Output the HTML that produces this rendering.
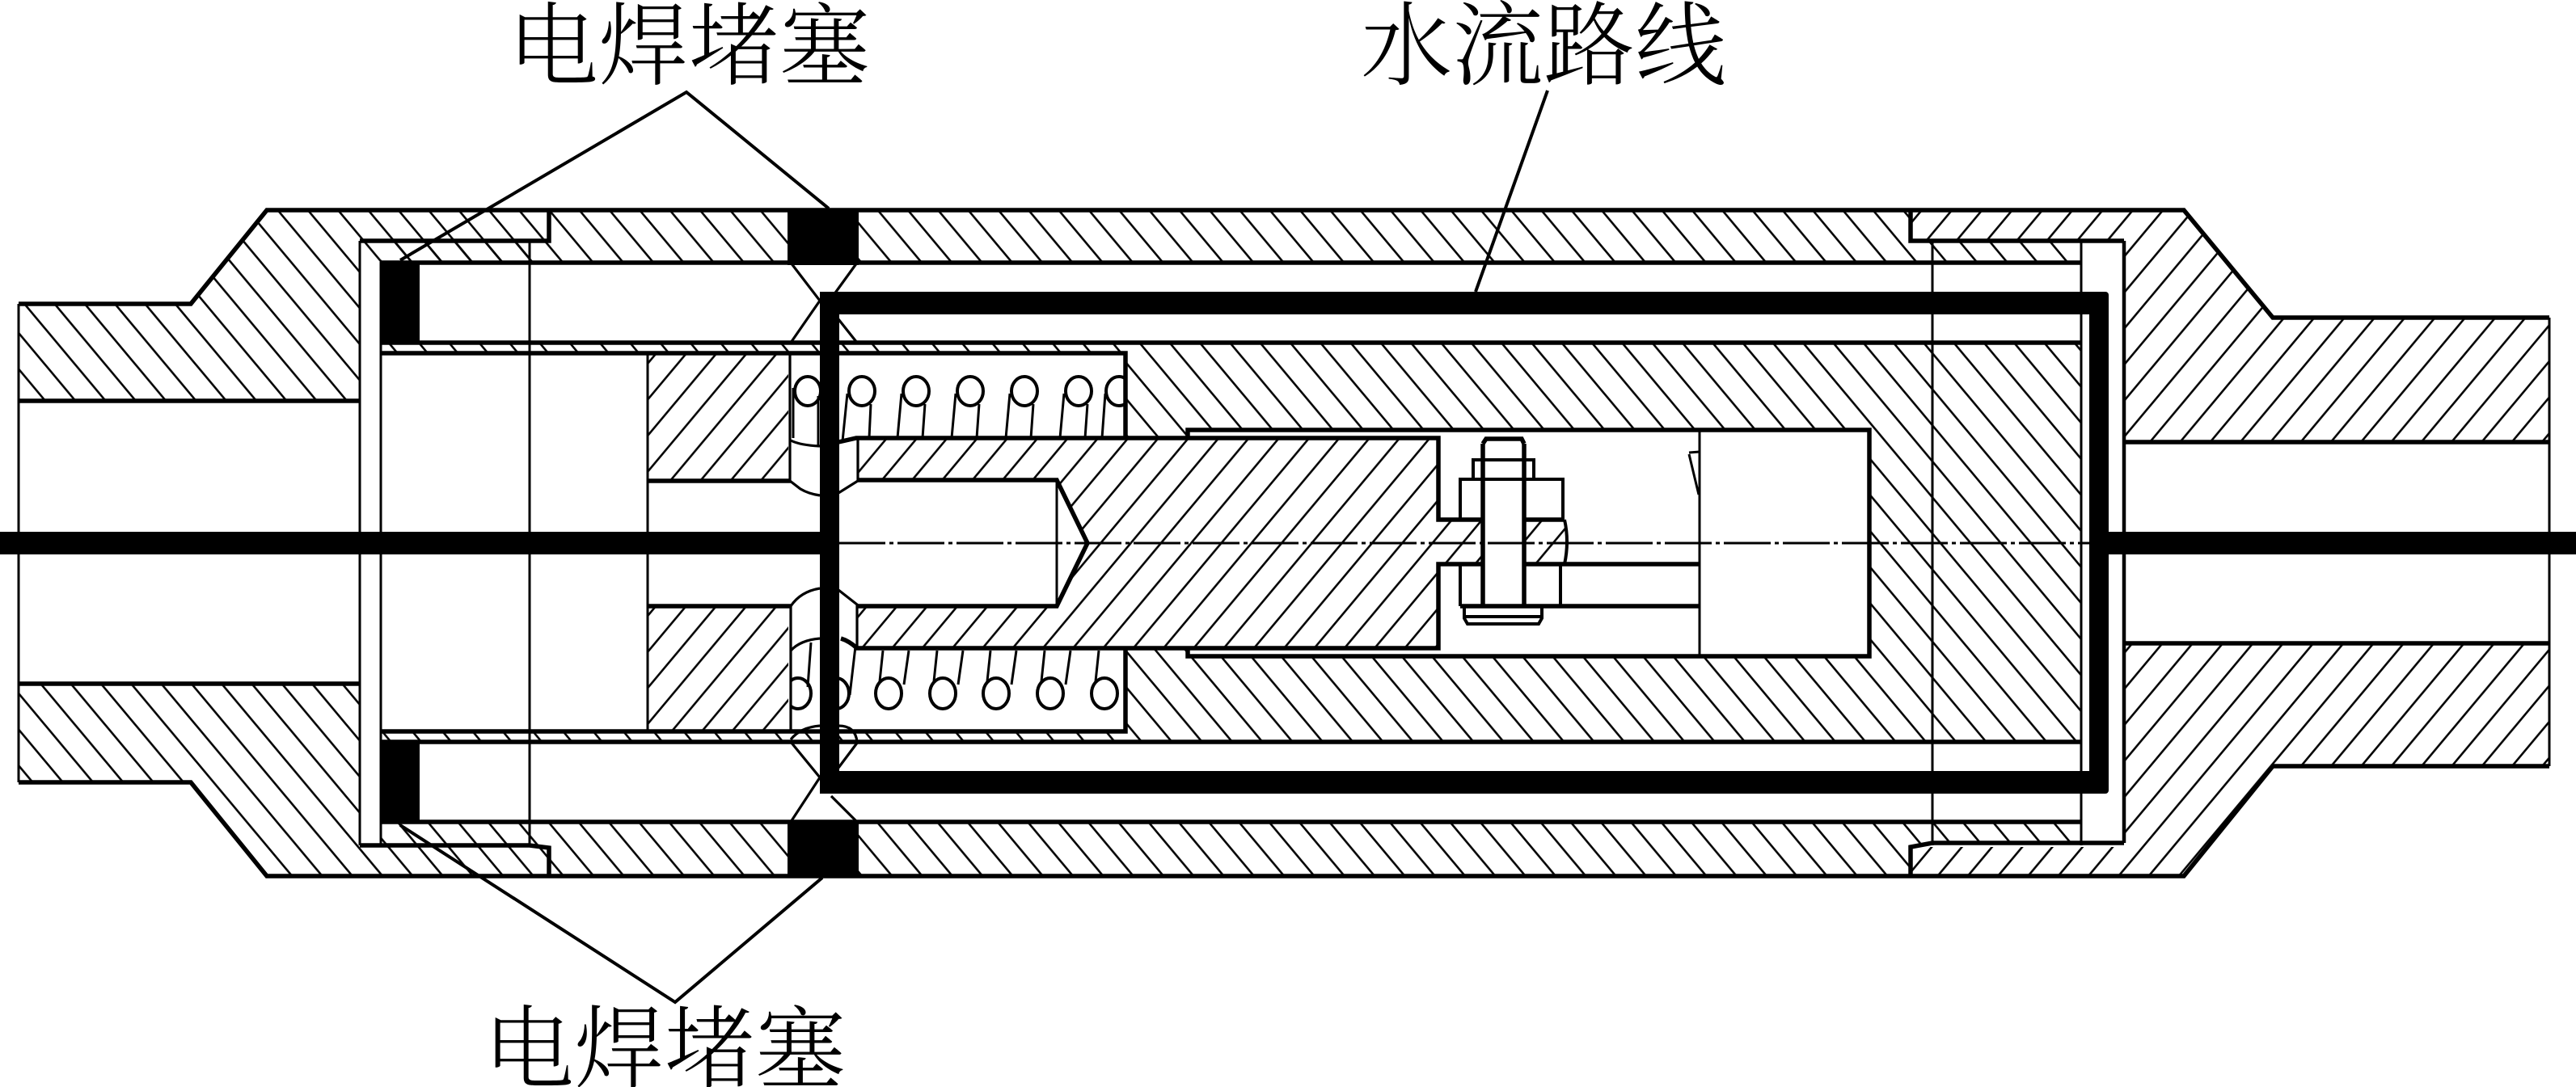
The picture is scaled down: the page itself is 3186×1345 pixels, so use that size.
<!DOCTYPE html>
<html><head><meta charset="utf-8"><style>
html,body{margin:0;padding:0;background:#fff}
svg{display:block}
text{font-family:"Liberation Serif","Noto Serif CJK SC",serif;font-size:112px;fill:#000;font-weight:300}
</style></head><body>
<svg width="3186" height="1345" viewBox="0 0 3186 1345" xmlns="http://www.w3.org/2000/svg">
<defs>
<pattern id="b" patternUnits="userSpaceOnUse" width="37.3" height="44.6" patternTransform="translate(56,496)"><path d="M-37.3 -44.6L74.6 89.2M0 -44.6L74.6 44.6M-37.3 0L37.3 89.2" stroke="#000" stroke-width="2.6" fill="none"/></pattern>
<pattern id="m" patternUnits="userSpaceOnUse" width="37.3" height="44.6" patternTransform="translate(1097,542)"><path d="M74.6 -44.6L-37.3 89.2M37.3 -44.6L-37.3 44.6M74.6 0L0 89.2" stroke="#000" stroke-width="2.6" fill="none"/></pattern>
<pattern id="r" patternUnits="userSpaceOnUse" width="37.3" height="44.6" patternTransform="translate(2659,547)"><path d="M74.6 -44.6L-37.3 89.2M37.3 -44.6L-37.3 44.6M74.6 0L0 89.2" stroke="#000" stroke-width="2.6" fill="none"/></pattern>
<pattern id="c" patternUnits="userSpaceOnUse" width="37.3" height="44.6" patternTransform="translate(1425,532)"><path d="M-37.3 -44.6L74.6 89.2M0 -44.6L74.6 44.6M-37.3 0L37.3 89.2" stroke="#000" stroke-width="2.6" fill="none"/></pattern>
<clipPath id="c1"><rect x="978" y="430" width="414" height="120"/></clipPath>
<clipPath id="c2"><rect x="978" y="800" width="36" height="110"/><rect x="1037" y="800" width="355" height="110"/></clipPath>
</defs>
<rect width="3186" height="1345" fill="#fff"/>

<!-- hatch: left flange + left shell -->
<path fill="url(#b)" d="M23 376H236L330 259H975V325H471V323H445V496H23Z"/>
<path fill="url(#b)" d="M23 846H445V1046H679V1084H330L236 968H23Z"/>
<path fill="url(#b)" d="M471 1017H975V1084H679V1049H471Z"/>
<path fill="url(#b)" d="M471 298H655V325H471Z"/>
<!-- shell right of plug -->
<path fill="url(#c)" d="M1062 260H2363V298H2574V325H1062Z"/>
<path fill="url(#c)" d="M1062 1017H2574V1045H2363V1084H1062Z"/>
<!-- thin ring -->
<path fill="url(#b)" d="M471 424H1392V437H471Z"/>
<path fill="url(#b)" d="M471 905H1392V918H471Z"/>
<!-- main body -->
<path fill="url(#c)" d="M1392 424H2574V918H1392V802H1469V812H2312V532H1469V542H1392Z"/>
<!-- blocks -->
<rect x="801" y="437" width="174" height="158" fill="url(#m)"/>
<rect x="801" y="750" width="174" height="155" fill="url(#m)"/>
<!-- piston -->
<path fill="url(#m)" d="M1061 542H1779V643H1836V698H1779V802H1061V750H1307L1345 672L1307 594H1061Z"/>
<path fill="url(#m)" d="M1885 643H1935Q1941 670 1935 698H1885Z"/>
<!-- right flange -->
<path fill="url(#r)" d="M2363 260H2701L2811 393H3153V547H2627V298H2363Z"/>
<path fill="url(#r)" d="M2627 796H3153V948H2811L2701 1084H2363V1048H2627Z"/>

<!-- thick outlines -->
<g fill="none" stroke="#000" stroke-width="5.5" stroke-linejoin="miter">
<path d="M23 376H236L330 260H2701L2811 393H3153"/>
<path d="M23 968H236L330 1084H2701L2811 948H3153"/>
<path d="M23 496H445"/><path d="M23 846H445"/>
<path d="M2627 547H3153"/><path d="M2627 796H3153"/>
<path d="M445 298H679V260"/>
<path d="M445 1046H655L679 1049V1084"/>
<path d="M2363 260V298H2627"/>
<path d="M2627 1043H2390L2363 1048V1084"/>
<path d="M470 325H2574"/><path d="M471 1017H2574"/>
<path d="M471 424H2574"/><path d="M471 918H2574"/>
<path d="M471 437H1392V542"/>
<path d="M471 905H1392V802"/>
<path d="M801 595H978"/><path d="M801 750H978"/>
<path d="M1061 594H1307L1345 672L1307 750H1061"/>
<path d="M1037 547L1059 542H1779V643H1836"/>
<path d="M1040 790Q1050 793 1060 802H1779V698H1836"/>
<path d="M1469 542V532H2312V812H1469V802"/>
<path d="M1885 643H1935"/><path d="M1885 698H2102"/><path d="M1806 750H2102"/>
<path d="M1834 549V750"/><path d="M1885 549V750"/>
<path d="M1834 549L1838 543H1882L1885 549"/>
</g>
<g fill="none" stroke="#000" stroke-width="3">
<path d="M23 376V968"/><path d="M3153 393V948"/>
<path d="M445 298V1046"/><path d="M471 323V1046"/>
<path d="M655 298V1046"/><path d="M801 437V905"/>
<path d="M1307 594V750"/>
<path d="M2574 298V1046"/><path d="M2390 298V1046"/>
<path d="M2102 532V812"/>
<path d="M2089 560L2102 559M2089 562L2101 612"/>
</g>
<path d="M2627 298V1043" fill="none" stroke="#000" stroke-width="4.5"/>
<!-- bolt -->
<g fill="none" stroke="#000" stroke-width="4">
<path d="M1822 595V569H1897V595"/>
<path d="M1806 643V593H1933V643"/>
<path d="M1806 698V750"/><path d="M1930 698V750"/>
<path d="M1935 643Q1941 670 1935 698"/>
<path d="M1811 750V765L1815 772H1903L1907 765V750"/>
<path d="M1811 763H1907"/>
</g>
<!-- hex / plug bore -->
<g fill="none" stroke="#000" stroke-width="3.2">
<path d="M978 325L1014 372L978 424"/><path d="M1060 325L1026 372"/><path d="M1037 395L1060 424"/>
<path d="M978 918L1014 962L978 1017"/><path d="M1061 918L1037 950"/><path d="M1028 985L1060 1017"/>
<path d="M977 437V595L990 605Q1000 611 1014 613"/>
<path d="M1061 542V595L1037 610"/>
<path d="M978 750Q990 732 1014 728"/><path d="M1037 730L1060 748V800"/>
<path d="M978 750V905"/>
<path d="M978 805Q990 792 1014 790"/>
<path d="M978 545Q990 551 1014 552"/>
<path d="M978 915Q990 900 1014 898"/><path d="M1037 898Q1058 898 1060 918"/>
</g>
<!-- springs upper -->
<g fill="none" stroke="#000" stroke-width="4" clip-path="url(#c1)">
<ellipse cx="999" cy="484" rx="16" ry="18"/>
<ellipse cx="1066" cy="484" rx="16" ry="18"/>
<ellipse cx="1133" cy="484" rx="16" ry="18"/>
<ellipse cx="1200" cy="484" rx="16" ry="18"/>
<ellipse cx="1267" cy="484" rx="16" ry="18"/>
<ellipse cx="1334" cy="484" rx="16" ry="18"/>
<ellipse cx="1384" cy="484" rx="16" ry="18"/>
</g>
<g fill="none" stroke="#000" stroke-width="3">
<path d="M981 480V542M1012 490V552"/>
<path d="M1048 487L1042 546M1077 500L1075 542"/>
<path d="M1115 487L1110 542M1144 500L1141 542"/>
<path d="M1182 487L1177 542M1211 500L1208 542"/>
<path d="M1249 487L1244 542M1278 500L1275 542"/>
<path d="M1316 487L1311 542M1345 500L1342 542"/>
<path d="M1367 487L1363 542"/>
</g>
<!-- springs lower -->
<g fill="none" stroke="#000" stroke-width="4" clip-path="url(#c2)">
<ellipse cx="987" cy="858" rx="16" ry="19"/>
<ellipse cx="1034" cy="858" rx="16" ry="19"/>
<ellipse cx="1099" cy="858" rx="16" ry="19"/>
<ellipse cx="1166" cy="858" rx="16" ry="19"/>
<ellipse cx="1232" cy="858" rx="16" ry="19"/>
<ellipse cx="1299" cy="858" rx="16" ry="19"/>
<ellipse cx="1366" cy="858" rx="16" ry="19"/>
</g>
<g fill="none" stroke="#000" stroke-width="3">
<path d="M1003 795L999 850M1058 800L1051 860"/>
<path d="M1092 805L1088 843M1124 805L1118 847"/>
<path d="M1159 805L1155 843M1191 805L1185 847"/>
<path d="M1225 805L1221 843M1257 805L1251 847"/>
<path d="M1292 805L1288 843M1324 805L1318 847"/>
<path d="M1359 805L1355 843"/>
</g>
<!-- centerline -->
<path d="M1037 672H2584" stroke="#000" stroke-width="3" stroke-dasharray="58 5 5 5" fill="none"/>
<!-- black plugs -->
<g fill="#000">
<rect x="470" y="323" width="49" height="102"/>
<rect x="470" y="918" width="49" height="100"/>
<rect x="974" y="258" width="88" height="70"/>
<rect x="974" y="1017" width="88" height="67"/>
</g>
<!-- water route -->
<path d="M0 672H1026M2596 672H3186" stroke="#000" stroke-width="28" fill="none"/>
<rect x="1014" y="361" width="24" height="621" fill="#000"/>
<rect x="1014" y="361" width="1594" height="28" rx="6" fill="#000"/>
<rect x="1014" y="954" width="1594" height="28" rx="6" fill="#000"/>
<rect x="2584" y="361" width="24" height="621" rx="4" fill="#000"/>
<!-- leaders -->
<g fill="none" stroke="#000" stroke-width="4">
<path d="M495 322L849 114L1025 258"/>
<path d="M495 1021L835 1240L1017 1086"/>
<path d="M1914 112L1825 361"/>
</g>
<text x="628" y="96">电焊堵塞</text>
<text x="1683" y="96" style="font-size:113px">水流路线</text>
<text x="598" y="1337">电焊堵塞</text>
</svg>
</body></html>
